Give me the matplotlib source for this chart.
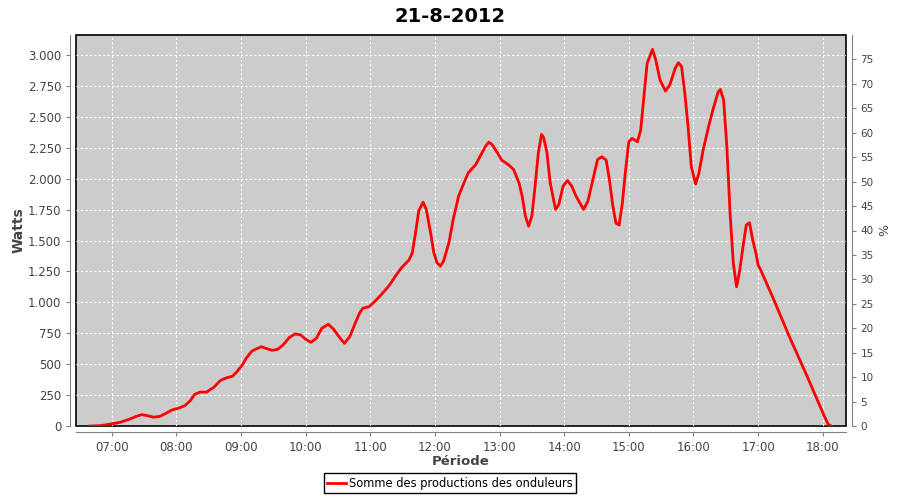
import matplotlib
matplotlib.use('Agg')
import matplotlib.pyplot as plt
import matplotlib.dates as mdates
from matplotlib.ticker import FuncFormatter, MultipleLocator
import pandas as pd

day = "2012-08-21"

times = ["06:40", "06:50", "06:59", "07:08", "07:17", "07:23", "07:28", "07:33", "07:39", "07:45",
         "07:51", "07:56", "08:02", "08:08", "08:13", "08:17", "08:22", "08:28", "08:35", "08:41",
         "08:47", "08:52", "08:56", "09:01", "09:05", "09:10", "09:15", "09:19", "09:24", "09:29",
         "09:34", "09:39", "09:45", "09:50", "09:55", "10:01", "10:05", "10:10", "10:15", "10:21",
         "10:26", "10:32", "10:36", "10:41", "10:46", "10:50", "10:53", "10:59", "11:04", "11:10",
         "11:18", "11:24", "11:29", "11:36", "11:39", "11:42", "11:45", "11:49", "11:52", "11:56",
         "11:59", "12:02", "12:05", "12:08", "12:13", "12:17", "12:22", "12:27", "12:31", "12:38",
         "12:42", "12:47", "12:50", "12:53", "12:58", "13:02", "13:08", "13:13", "13:18", "13:21",
         "13:24", "13:27", "13:30", "13:33", "13:36", "13:39", "13:41", "13:44", "13:47", "13:52",
         "13:55", "13:59", "14:03", "14:07", "14:11", "14:18", "14:22", "14:27", "14:31", "14:35",
         "14:39", "14:42", "14:45", "14:48", "14:51", "14:54", "14:57", "15:00", "15:03", "15:08",
         "15:11", "15:14", "15:17", "15:22", "15:25", "15:29", "15:34", "15:38", "15:43", "15:46",
         "15:49", "15:52", "15:55", "15:58", "16:02", "16:05", "16:09", "16:14", "16:18", "16:23",
         "16:25", "16:28", "16:31", "16:34", "16:37", "16:40", "16:43", "16:46", "16:49", "16:52",
         "16:55", "16:58", "17:00", "17:03", "17:14", "17:29", "17:45", "18:01", "18:05", "18:08"]

watts = [0, 3, 16, 30, 57, 79, 92, 84, 71, 79,
         106, 130, 144, 165, 206, 255, 274, 274, 315, 369,
         391, 402, 437, 491, 550, 605, 627, 641, 625, 612,
         620, 655, 717, 744, 738, 696, 677, 710, 790, 823,
         782, 710, 669, 723, 831, 912, 952, 966, 1006, 1060,
         1141, 1221, 1280, 1343, 1400, 1560, 1740, 1810, 1751, 1563,
         1401, 1320, 1293, 1333, 1482, 1671, 1859, 1967, 2048, 2115,
         2182, 2263, 2295, 2277, 2210, 2150, 2115, 2075, 1967, 1859,
         1697, 1616, 1697, 1940, 2210, 2358, 2331, 2210, 1967, 1751,
         1791, 1940, 1986, 1940, 1859, 1751, 1818, 2007, 2155, 2177,
         2150, 1990, 1790, 1641, 1625, 1803, 2070, 2299, 2326, 2299,
         2393, 2663, 2933, 3046, 2960, 2798, 2709, 2757, 2892, 2938,
         2906, 2690, 2420, 2097, 1957, 2043, 2232, 2420, 2555, 2703,
         2722, 2636, 2258, 1720, 1316, 1126, 1261, 1450, 1625, 1644,
         1504, 1397, 1303, 1250, 1033, 723, 412, 89, 14, 0]

x = pd.to_datetime([day + " " + t for t in times])

fig = plt.figure(figsize=(9, 5), dpi=100)
ax = fig.add_axes([0.0844, 0.148, 0.8556, 0.782])
ax.set_facecolor('#cccccc')
ax.patch.set_edgecolor('black')
ax.patch.set_linewidth(1.2)

ax.plot(x, watts, color='#ff0000', lw=2, zorder=3)

ax.set_xlim(pd.Timestamp(day + " 06:26:48"), pd.Timestamp(day + " 18:21:36"))
ax.set_ylim(0, 3162)
ax.xaxis.set_major_locator(mdates.HourLocator())
ax.xaxis.set_major_formatter(mdates.DateFormatter('%H:%M'))
ax.yaxis.set_major_locator(MultipleLocator(250))
ax.yaxis.set_major_formatter(FuncFormatter(lambda v, p: f"{int(v):,}".replace(",", ".")))

ax.grid(True, color='white', linestyle=(0, (2, 2)), lw=0.8)
for s in ['top', 'right']:
    ax.spines[s].set_visible(False)
for s in ['left', 'bottom']:
    ax.spines[s].set_position(('outward', 4))
    ax.spines[s].set_color('#808080')
ax.tick_params(colors='#808080', labelcolor='#444444', labelsize=8.5, length=3)

ax.set_ylabel('Watts', fontsize=10, fontweight='bold', color='#444444', labelpad=2)
ax.set_xlabel('Période', fontsize=9.5, fontweight='bold', color='#444444', labelpad=1)

ax2 = ax.twinx()
ax2.set_ylim(0, 80)
ax2.set_yticks(range(0, 80, 5))
for s in ['top', 'left', 'bottom']:
    ax2.spines[s].set_visible(False)
ax2.spines['right'].set_position(('outward', 4))
ax2.spines['right'].set_color('#808080')
ax2.tick_params(colors='#808080', labelcolor='#444444', labelsize=7.5, length=3)
ax2.set_ylabel('%', fontsize=9, color='#444444', labelpad=3)

fig.suptitle('21-8-2012', fontsize=14, fontweight='bold', y=0.985)

leg = fig.legend(ax.lines, ['Somme des productions des onduleurs'], loc='lower center',
                 bbox_to_anchor=(0.5, 0.002), fancybox=False, edgecolor='black',
                 framealpha=1, fontsize=8.3, handlelength=1.6, handletextpad=0.3,
                 borderpad=0.3)
leg.get_frame().set_linewidth(1)

fig.savefig('out.png', dpi=100)
